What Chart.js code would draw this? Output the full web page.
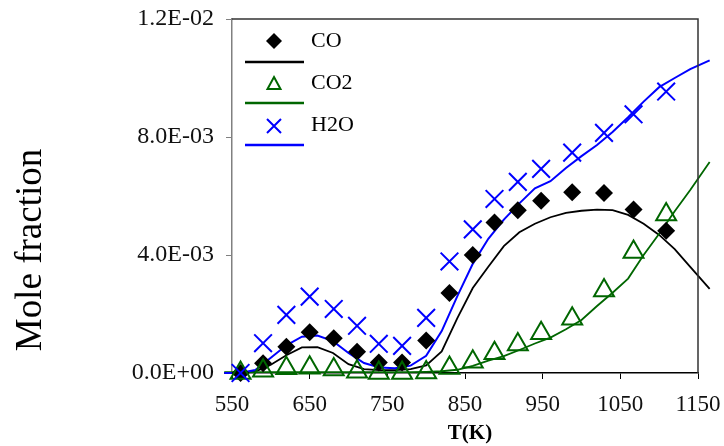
<!DOCTYPE html>
<html>
<head>
<meta charset="utf-8">
<script src="https://cdn.jsdelivr.net/npm/chart.js@4.4.0/dist/chart.umd.min.js"></script>
<style>
  body { margin: 0; background: #fff; }
</style>
</head>
<body>
<canvas id="chart" width="724" height="446"></canvas>
<script>
// experimental points (markers)
const expT = [561, 590, 620, 650, 681, 711, 739, 769, 800, 830, 860, 888, 918, 948, 988, 1029, 1067, 1109];
const coExp = [0, 3.3e-4, 8.9e-4, 1.38e-3, 1.18e-3, 7.2e-4, 3.6e-4, 3.6e-4, 1.1e-3, 2.71e-3, 4.0e-3, 5.1e-3, 5.52e-3, 5.84e-3, 6.13e-3, 6.1e-3, 5.54e-3, 4.82e-3];
const co2Exp = [0, 8e-5, 1.6e-4, 1.8e-4, 1.2e-4, 4e-5, 0, 0, 2e-5, 1.7e-4, 3.8e-4, 6.7e-4, 9.7e-4, 1.35e-3, 1.84e-3, 2.8e-3, 4.1e-3, 5.37e-3];
const h2oExp = [0, 1.01e-3, 1.97e-3, 2.59e-3, 2.17e-3, 1.6e-3, 9.9e-4, 9.2e-4, 1.87e-3, 3.78e-3, 4.87e-3, 5.9e-3, 6.48e-3, 6.92e-3, 7.47e-3, 8.14e-3, 8.77e-3, 9.54e-3];

// model curves (lines)
const modelT = [540, 560, 580, 600, 620, 640, 660, 680, 700, 720, 740, 760, 780, 800, 820, 840, 860, 880, 900, 920, 940, 960, 980, 1000, 1020, 1040, 1060, 1080, 1100, 1120, 1140, 1165];
const coModel = [0, 0, 5e-5, 2.8e-4, 6e-4, 8.7e-4, 8.8e-4, 6.8e-4, 3e-4, 1.3e-4, 1e-4, 1e-4, 1.3e-4, 2.6e-4, 7.3e-4, 1.85e-3, 2.88e-3, 3.6e-3, 4.3e-3, 4.77e-3, 5.06e-3, 5.28e-3, 5.43e-3, 5.5e-3, 5.54e-3, 5.52e-3, 5.36e-3, 5.06e-3, 4.68e-3, 4.2e-3, 3.6e-3, 2.85e-3];
const co2Model = [3e-5, 3e-5, 3e-5, 3e-5, 3e-5, 3e-5, 3e-5, 3e-5, 3e-5, 3e-5, 3e-5, 3e-5, 3e-5, 4e-5, 6e-5, 1.1e-4, 2.4e-4, 4.2e-4, 5.7e-4, 7.8e-4, 1.0e-3, 1.2e-3, 1.48e-3, 1.8e-3, 2.27e-3, 2.72e-3, 3.2e-3, 4.0e-3, 4.72e-3, 5.48e-3, 6.2e-3, 7.15e-3];
const h2oModel = [0, 0, 1e-4, 5.2e-4, 9.4e-4, 1.23e-3, 1.27e-3, 1.08e-3, 6.8e-4, 3.4e-4, 1.9e-4, 1.6e-4, 2.5e-4, 5.8e-4, 1.42e-3, 2.6e-3, 3.7e-3, 4.55e-3, 5.2e-3, 5.75e-3, 6.26e-3, 6.5e-3, 6.95e-3, 7.35e-3, 7.73e-3, 8.17e-3, 8.67e-3, 9.2e-3, 9.69e-3, 1.0e-2, 1.03e-2, 1.06e-2];

const GREEN = '#006600';
const BLUE = '#0000ff';
const SERIF = "'Liberation Serif', 'Times New Roman', serif";

function pts(xs, ys) {
    return xs.map(function(x, i) { return {x: x, y: ys[i]}; });
}

// 1.2E-02 style labels
function sci(v) {
    if (v === 0) return '0.0E+00';
    const e = Math.floor(Math.log10(Math.abs(v)) + 1e-9);
    const m = v / Math.pow(10, e);
    const sign = e < 0 ? '-' : '+';
    const ea = Math.abs(e);
    return m.toFixed(1) + 'E' + sign + (ea < 10 ? '0' + ea : ea);
}

// axis titles, legend and the top/right edges of the plot box
const decor = {
    id: 'decor',
    afterDraw(chart) {
        const ctx = chart.ctx;
        ctx.save();
        ctx.setTransform(1, 0, 0, 1, 0, 0);
        ctx.setLineDash([]);
        ctx.globalAlpha = 1;

        ctx.fillStyle = '#000';
        ctx.font = '37px ' + SERIF;
        ctx.textAlign = 'center';
        ctx.textBaseline = 'middle';
        ctx.translate(31, 250);
        ctx.rotate(-Math.PI / 2);
        ctx.fillText('Mole fraction', 0, 0);
        ctx.setTransform(1, 0, 0, 1, 0, 0);
        ctx.font = 'bold 21px ' + SERIF;
        ctx.fillText('T(K)', 470, 434);

        const mx = 274, lx0 = 245, lx1 = 304;
        ctx.fillStyle = '#000';
        ctx.beginPath();
        ctx.moveTo(mx - 8, 41); ctx.lineTo(mx, 33); ctx.lineTo(mx + 8, 41); ctx.lineTo(mx, 49);
        ctx.closePath();
        ctx.fill();
        ctx.lineWidth = 2.5;
        ctx.strokeStyle = '#000';
        ctx.beginPath(); ctx.moveTo(lx0, 62); ctx.lineTo(lx1, 62); ctx.stroke();

        ctx.strokeStyle = GREEN;
        ctx.lineWidth = 2;
        ctx.beginPath();
        ctx.moveTo(mx, 77); ctx.lineTo(mx + 6.5, 89); ctx.lineTo(mx - 6.5, 89);
        ctx.closePath();
        ctx.stroke();
        ctx.lineWidth = 2.5;
        ctx.beginPath(); ctx.moveTo(lx0, 103); ctx.lineTo(lx1, 103); ctx.stroke();

        ctx.strokeStyle = BLUE;
        ctx.lineWidth = 2;
        ctx.beginPath();
        ctx.moveTo(mx - 7, 119); ctx.lineTo(mx + 7, 133);
        ctx.moveTo(mx + 7, 119); ctx.lineTo(mx - 7, 133);
        ctx.stroke();
        ctx.lineWidth = 2.5;
        ctx.beginPath(); ctx.moveTo(lx0, 145); ctx.lineTo(lx1, 145); ctx.stroke();

        ctx.fillStyle = '#000';
        ctx.font = '22px ' + SERIF;
        ctx.textAlign = 'left';
        ctx.textBaseline = 'middle';
        ctx.fillText('CO', 311, 41);
        ctx.fillText('CO2', 311, 83);
        ctx.fillText('H2O', 311, 125);

        // frame, placed through the scales
        try {
            const xs = chart.scales.x, ys = chart.scales.y;
            const x0 = xs.getPixelForValue(550), x1 = xs.getPixelForValue(1150);
            const y0 = ys.getPixelForValue(0), y1 = ys.getPixelForValue(0.012);
            ctx.strokeStyle = '#333';
            ctx.lineWidth = 1.5;
            ctx.beginPath();
            ctx.moveTo(x0, y1);
            ctx.lineTo(x1, y1);
            ctx.lineTo(x1, y0);
            ctx.stroke();
        } catch (err) {
            // leave the frame out if the scales are not ready
        }
        ctx.restore();
    }
};

new Chart(document.getElementById('chart'), {
    type: 'scatter',
    data: {
        datasets: [
            {
                label: 'H2O',
                data: pts(expT, h2oExp),
                pointStyle: 'crossRot',
                pointRadius: 12.5,
                borderColor: BLUE,
                pointBorderWidth: 2,
                clip: false
            },
            {
                label: 'CO2',
                data: pts(expT, co2Exp),
                pointStyle: 'triangle',
                pointRadius: 11.5,
                borderColor: GREEN,
                backgroundColor: 'rgba(0,0,0,0)',
                pointBorderWidth: 2,
                clip: false
            },
            {
                label: 'CO',
                data: pts(expT, coExp),
                pointStyle: 'rectRot',
                pointRadius: 9,
                backgroundColor: '#000',
                borderColor: '#000',
                pointBorderWidth: 0,
                clip: false
            },
            {
                label: 'H2O model',
                data: pts(modelT, h2oModel),
                showLine: true,
                pointRadius: 0,
                borderColor: BLUE,
                borderWidth: 2,
                clip: false
            },
            {
                label: 'CO2 model',
                data: pts(modelT, co2Model),
                showLine: true,
                pointRadius: 0,
                borderColor: GREEN,
                borderWidth: 1.8,
                clip: false
            },
            {
                label: 'CO model',
                data: pts(modelT, coModel),
                showLine: true,
                pointRadius: 0,
                borderColor: '#000',
                borderWidth: 1.8,
                clip: false
            }
        ]
    },
    options: {
        responsive: false,
        animation: false,
        devicePixelRatio: 1,
        layout: { padding: { top: 19, right: 26, left: 0, bottom: 0 } },
        plugins: {
            legend: { display: false },
            tooltip: { enabled: false }
        },
        scales: {
            x: {
                type: 'linear',
                min: 550,
                max: 1150,
                ticks: {
                    stepSize: 100,
                    color: '#111',
                    padding: 12,
                    font: { family: SERIF, size: 23 },
                    callback: function(v) { return String(v); }
                },
                grid: { drawOnChartArea: false, tickLength: 6, color: '#000' },
                border: { color: '#000', width: 1.5 },
                afterFit: function(s) { s.height = 73; s.paddingLeft = 0; s.paddingRight = 0; }
            },
            y: {
                min: 0,
                max: 0.012,
                ticks: {
                    stepSize: 0.004,
                    color: '#111',
                    padding: 12,
                    font: { family: SERIF, size: 24 },
                    callback: sci
                },
                grid: { drawOnChartArea: false, tickLength: 6, color: '#808080' },
                border: { color: '#808080', width: 1.5 },
                afterFit: function(s) { s.width = 232; s.paddingTop = 0; s.paddingBottom = 0; }
            }
        }
    },
    plugins: [decor]
});
</script>
</body>
</html>
